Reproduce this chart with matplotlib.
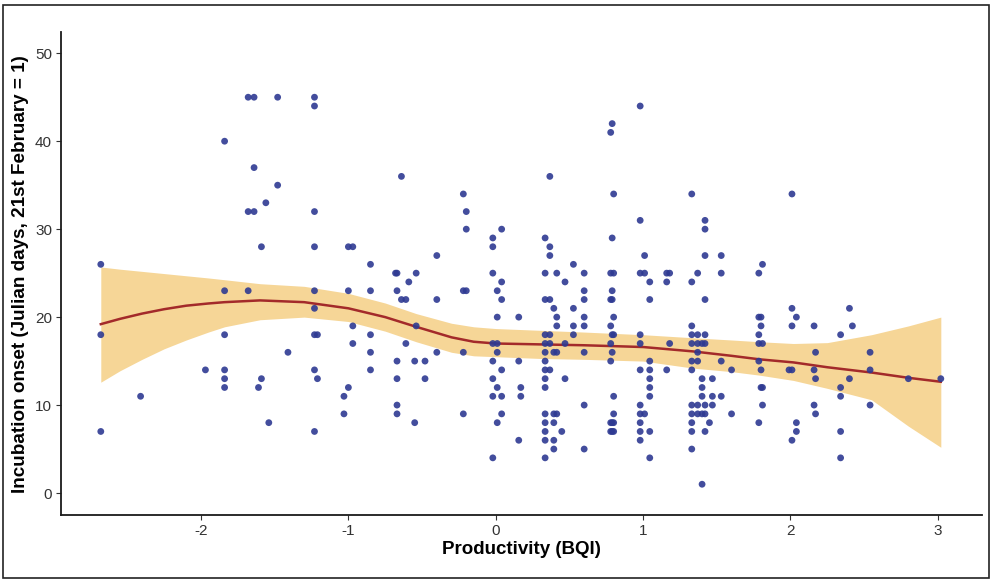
import matplotlib
matplotlib.use("Agg")
import matplotlib.pyplot as plt
from matplotlib.patches import Rectangle

# ---- data ----
col_x = [-2.68, -2.41, -1.97, -1.84, -1.68, -1.64, -1.61, -1.59, -1.56, -1.54,
         -1.48, -1.41, -1.23, -1.21, -1.03, -1.00, -0.97, -0.85, -0.68, -0.67,
         -0.64, -0.61, -0.59, -0.55, -0.54, -0.48, -0.40, -0.22, -0.20, -0.02,
         0.01, 0.04, 0.156, 0.17, 0.335, 0.367, 0.394, 0.414, 0.448, 0.47,
         0.527, 0.60, 0.78, 0.79, 0.80, 0.98, 1.01, 1.045, 1.16, 1.18,
         1.33, 1.37, 1.40, 1.42, 1.45, 1.47, 1.53, 1.60, 1.785, 1.80,
         1.81, 1.99, 2.01, 2.04, 2.16, 2.17, 2.34, 2.40, 2.42, 2.54,
         2.80, 3.02]
col_y = [[26, 18, 7], [11], [14], [40, 23, 18, 14, 13, 12], [45, 32, 23],
         [45, 37, 32], [12], [28, 13], [33], [8],
         [45, 35], [16], [45, 44, 32, 28, 23, 21, 18, 14, 7], [18, 13], [11, 9],
         [28, 23, 12], [28, 19, 17], [26, 23, 18, 16, 14], [25], [25, 23, 15, 13, 10, 9],
         [36, 22], [22, 17], [24], [15, 8], [25, 19], [15, 13], [27, 22, 16],
         [34, 23, 16, 9], [32, 30, 23], [29, 28, 25, 17, 15, 13, 11, 4],
         [23, 20, 17, 16, 12, 8], [30, 24, 22, 14, 11, 9], [20, 15, 6], [12, 11],
         [29, 25, 22, 18, 17, 16, 15, 14, 13, 12, 9, 8, 7, 6, 4],
         [36, 28, 27, 22, 18, 17, 14], [21, 16, 9, 8, 6, 5], [25, 20, 19, 16, 9],
         [7], [24, 17, 13],
         [26, 21, 19, 18], [25, 23, 22, 20, 19, 16, 10, 5],
         [41, 25, 22, 19, 17, 15, 8, 7], [42, 29, 23, 22, 18, 16, 8, 7],
         [34, 25, 20, 18, 11, 9, 8, 7], [44, 31, 25, 18, 17, 14, 10, 9, 8, 7, 6],
         [27, 25, 9], [24, 22, 15, 14, 13, 12, 11, 7, 4], [25, 24, 14], [25, 17],
         [34, 24, 19, 18, 17, 15, 14, 10, 9, 8, 7, 5], [25, 18, 17, 16, 15, 10, 9],
         [17, 13, 12, 11, 9, 1], [31, 30, 27, 22, 18, 17, 10, 9, 7], [8],
         [13, 11, 10], [27, 25, 15, 11], [14, 9], [25, 20, 18, 17, 15, 8],
         [20, 19, 14, 12],
         [26, 17, 12, 10], [14], [34, 21, 19, 14, 6], [20, 8, 7], [19, 14, 10],
         [16, 13, 9], [18, 12, 11, 7, 4], [21, 13], [19], [16, 14, 10],
         [13], [13]]

# smoothed fit and its confidence band
fit_x = [-2.68, -2.55, -2.4, -2.25, -2.1, -1.95, -1.84, -1.6, -1.3, -1.0,
         -0.75, -0.54, -0.3, -0.15, 0.0, 0.3, 0.6, 1.0, 1.34, 1.6, 1.79,
         2.02, 2.25, 2.55, 2.8, 3.02]
fit_y = [19.2, 19.8, 20.4, 20.9, 21.3, 21.55, 21.7, 21.9, 21.7, 21.0,
         20.0, 18.9, 17.7, 17.2, 17.0, 16.9, 16.8, 16.6, 16.1, 15.6, 15.2,
         14.85, 14.3, 13.7, 13.1, 12.65]
fit_hi = [25.7, 25.45, 25.2, 24.95, 24.7, 24.45, 24.25, 23.8, 23.5, 22.7,
          21.6, 20.4, 19.3, 18.9, 18.7, 18.5, 18.3, 18.0, 17.65, 17.4, 17.2,
          17.0, 17.1, 18.0, 19.0, 20.0]
fit_lo = [12.6, 13.9, 15.2, 16.4, 17.4, 18.3, 18.9, 19.7, 20.0, 19.5,
          18.4, 17.2, 16.0, 15.6, 15.5, 15.3, 15.2, 15.0, 14.2, 13.8, 13.4,
          12.8, 11.9, 10.6, 7.6, 5.2]

x_ticks = [-2, -1, 0, 1, 2, 3]
y_ticks = [0, 10, 20, 30, 40, 50]

bqi = [x for x, ys in zip(col_x, col_y) for _ in ys]
onset = [y for ys in col_y for y in ys]

# ---- figure ----
fig = plt.figure(figsize=(9.92, 5.79), dpi=100)
ax = fig.add_axes([0.0615, 0.1105, 0.9285, 0.834])

ax.fill_between(fit_x, fit_lo, fit_hi, color="#F6D697", lw=0, zorder=1)
ax.plot(fit_x, fit_y, color="#A32A2A", lw=1.8, zorder=2)
ax.scatter(bqi, onset, s=24, color="#2E3A92", edgecolors="none", alpha=0.9, zorder=3)

ax.set_xlim(-2.95, 3.30)
ax.set_ylim(-2.5, 52.4)
ax.set_xticks(x_ticks)
ax.set_yticks(y_ticks)

tick_font = ["Liberation Sans Narrow", "Liberation Sans", "DejaVu Sans"]
ax.set_xticklabels([str(t) for t in x_ticks], family=tick_font, fontsize=11, color="#333333")
ax.set_yticklabels([str(t) for t in y_ticks], family=tick_font, fontsize=11, color="#333333")
ax.tick_params(axis="both", length=3.5, width=0.8, color="#333333", pad=3)

for s in ["top", "right"]:
    ax.spines[s].set_visible(False)
for s in ["left", "bottom"]:
    ax.spines[s].set_linewidth(1.3)
    ax.spines[s].set_color("#1a1a1a")

lab_font = ["Liberation Sans", "DejaVu Sans"]
ax.set_xlabel("Productivity (BQI)", family=lab_font, fontsize=13.5, fontweight="bold", labelpad=2)
ax.set_ylabel("Incubation onset (Julian days, 21st February = 1)", family=lab_font,
              fontsize=13.6, fontweight="bold", labelpad=4)

# outer frame around the whole picture
fig.patches.append(Rectangle((0.003, 0.002), 0.994, 0.99, transform=fig.transFigure,
                             fill=False, edgecolor="#222222", lw=1.2))

fig.savefig("out.png", dpi=100)
